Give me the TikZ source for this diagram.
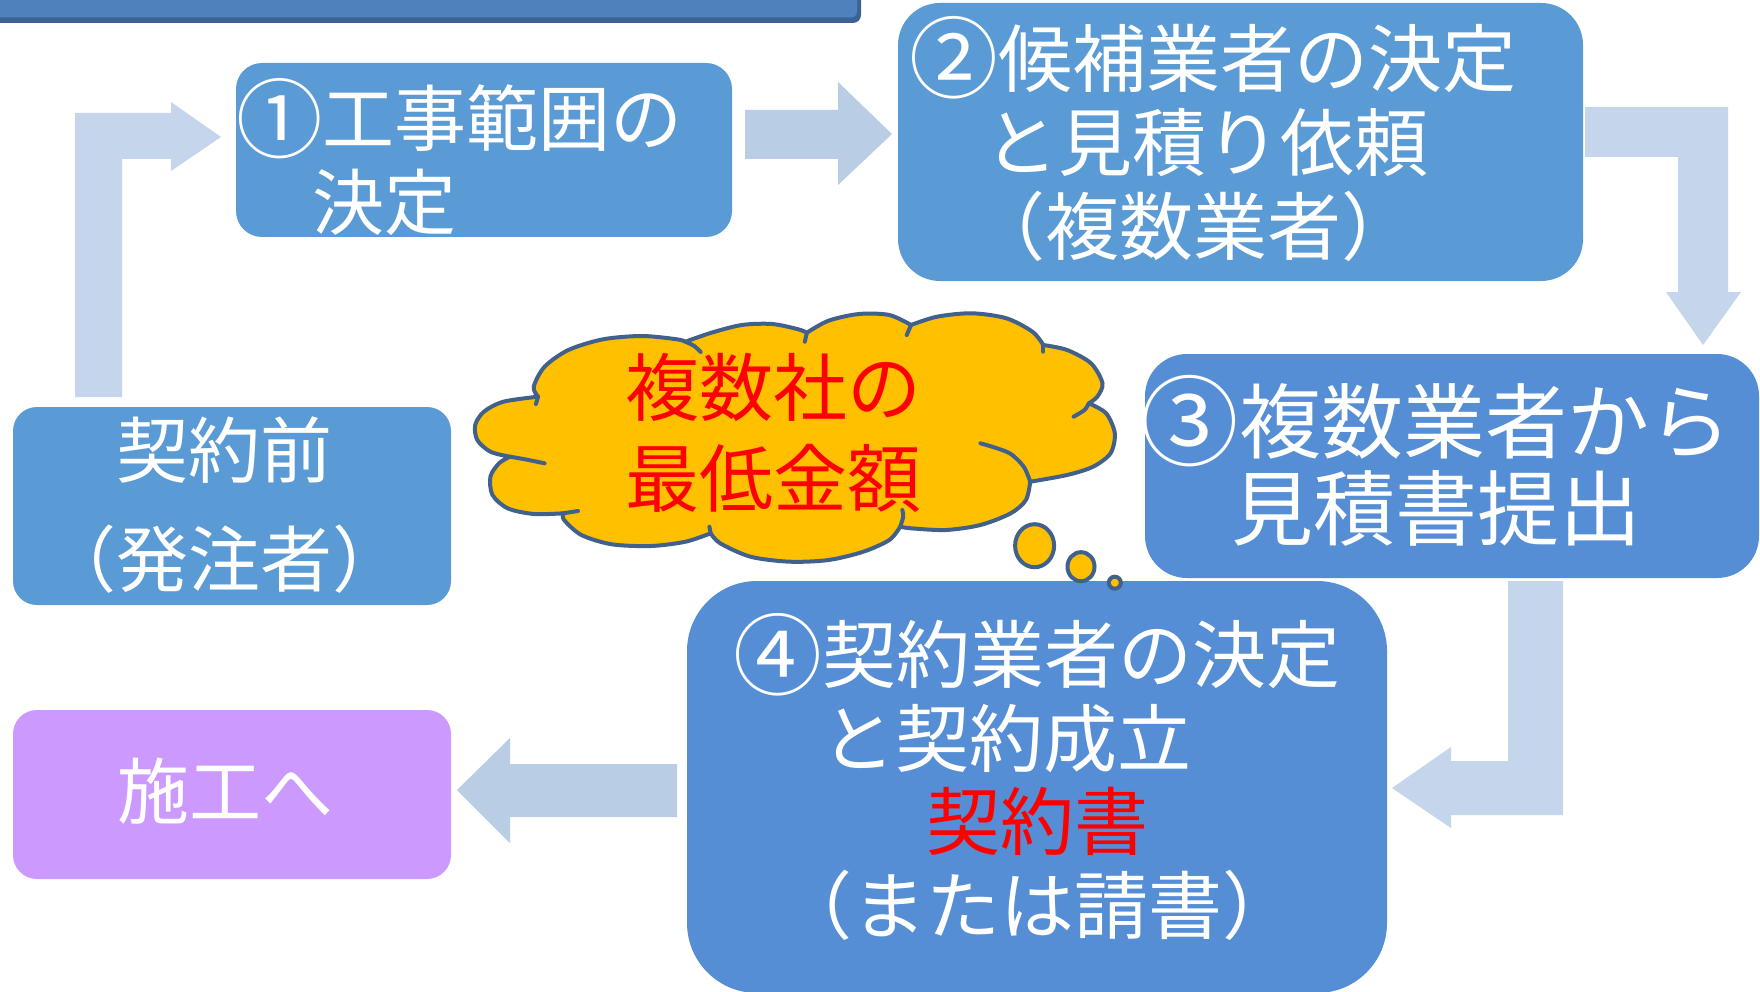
\documentclass[tikz,border=0pt]{standalone}
\usepackage{fontspec}
\usepackage{graphicx}
\newfontfamily\jp{Noto Sans CJK JP}
\newcommand\circnum[1]{\raisebox{-0.075em}{\scalebox{1.2}{#1}}}
\usetikzlibrary{shapes.geometric}
\definecolor{boxA}{HTML}{5B9BD5}
\definecolor{boxB}{HTML}{558ED5}
\definecolor{titlebar}{HTML}{4F81BD}
\definecolor{titleedge}{HTML}{3C6193}
\definecolor{arrowS}{HTML}{B9CDE5}
\definecolor{arrowL}{HTML}{C5D5EB}
\definecolor{lav}{HTML}{CC99FF}
\definecolor{cloudfill}{HTML}{FFC000}
\definecolor{cloudedge}{HTML}{41618C}
\definecolor{redtext}{HTML}{FF0000}
\begin{document}
\begin{tikzpicture}[x=1pt,y=-1pt,
  boxshape/.style={rectangle,inner sep=0pt,draw=none},
  txt/.style={inner sep=0pt,text=white,align=center},
  bubble/.style={ellipse,inner sep=0pt,fill=cloudfill,draw=cloudedge,line width=4pt},
  stub/.style={draw=cloudedge,line width=4pt,line cap=round},
]
\useasboundingbox (0,0) rectangle (1760,992);
\clip (0,0) rectangle (1760,992);
\fill[white] (0,0) rectangle (1760,992);

% title bar (text cut off above the picture)
\fill[titleedge,rounded corners=8pt] (-40,-40) rectangle (861,23);
\node[boxshape,fill=titlebar,rounded corners=6pt,minimum width=897pt,minimum height=57pt] (title) at (408.5,-11) {};

% arrows
\fill[arrowS] (745,110) -- (838,110) -- (838,82) -- (892,134) -- (838,185) -- (838,159) -- (745,159) -- cycle;
\fill[arrowL] (75,397) -- (75,113) -- (171,113) -- (171,102) -- (221,137) -- (171,171) -- (171,159) -- (122,159) -- (122,397) -- cycle;
\fill[arrowL] (1585,107) -- (1728,107) -- (1728,292) -- (1741,292) -- (1703,345) -- (1666,292) -- (1678,292) -- (1678,157) -- (1585,157) -- cycle;
\fill[arrowL] (1508,581) -- (1563,581) -- (1563,815) -- (1451,815) -- (1451,828) -- (1392,788) -- (1451,747) -- (1451,761) -- (1508,761) -- cycle;
\fill[arrowS] (677,764) -- (677,817) -- (510,817) -- (510,843) -- (457,790) -- (510,738) -- (510,764) -- cycle;

% boxes
\node[boxshape,fill=boxA,rounded corners=26pt,minimum width=496pt,minimum height=174pt] (b1) at (484,150) {};
\node[boxshape,fill=boxA,rounded corners=42pt,minimum width=685pt,minimum height=278pt] (b2) at (1240.5,142) {};
\node[boxshape,fill=boxB,rounded corners=42pt,minimum width=614pt,minimum height=224pt] (b3) at (1452,466) {};
\node[boxshape,fill=boxB,rounded corners=70pt,minimum width=700pt,minimum height=412pt] (b4) at (1037,787) {};
\node[boxshape,fill=boxA,rounded corners=24pt,minimum width=438pt,minimum height=198pt] (pre) at (232,506) {};
\node[boxshape,fill=lav,rounded corners=24pt,minimum width=438pt,minimum height=169pt] (go) at (232,794.5) {};

% box texts
\node[txt,align=left,anchor=west,font=\jp\fontsize{72pt}{84pt}\selectfont] (t1) at (236,157) {\circnum{①}工事範囲の\\\hspace*{76pt}決定};
\node[txt,font=\jp\fontsize{74pt}{84pt}\selectfont] (t2) at (1213,139) {\circnum{②}候補業者の決定\\と見積り依頼\hspace*{14pt}\null\\（複数業者）\hspace*{40pt}};
\node[txt,font=\jp\fontsize{82pt}{87pt}\selectfont] (t3) at (1436,461) {\circnum{③}複数業者から\\見積書提出};
\node[txt,font=\jp\fontsize{74pt}{83.5pt}\selectfont] (t4) at (1037,777) {\circnum{④}契約業者の決定\\と契約成立\hspace*{62pt}\null\\\textcolor{redtext}{契約書}\\（または請書）};
\node[txt,font=\jp\fontsize{72pt}{109pt}\selectfont] (tpre) at (224,505) {契約前\\（発注者）};
\node[txt,font=\jp\fontsize{72pt}{84pt}\selectfont] (tgo) at (225,791) {施工へ};

% cloud
\path[fill=cloudfill,draw=cloudedge,line width=4pt,line join=round]
  plot[smooth] coordinates {(538.1,396.7) (533.7,386.7) (544.6,366.7) (568.4,350) (603.1,339.3) (642.1,336) (676.8,339.3) (685.5,341.7)}
  -- plot[smooth] coordinates {(685.5,341.7) (711.5,332.7) (741.9,325) (772.2,324) (798.2,329.3) (806.9,332.7)}
  -- plot[smooth] coordinates {(806.9,332.7) (828.6,320.7) (859,314) (889.3,315) (911,325)}
  -- plot[smooth] coordinates {(911,325) (937,316.7) (971.7,313.3) (1006.4,318.3) (1032.4,331.7) (1043.3,345)}
  -- plot[smooth] coordinates {(1043.3,345) (1067.1,350) (1091,363.3) (1102.5,383.3) (1097.3,396.7) (1088.8,403.3)}
  -- plot[smooth] coordinates {(1088.8,403.3) (1106.1,413.3) (1114.8,433.3) (1110.5,453.3) (1093.1,466.7) (1067.1,475) (1030.2,481.7)}
  -- plot[smooth] coordinates {(1030.2,481.7) (1025.9,500) (1010.7,513.3) (980.4,525) (945.7,530) (911,528.3) (900.2,526.7)}
  -- plot[smooth] coordinates {(900.2,526.7) (889.3,540) (863.3,551.7) (828.6,560) (789.6,561.7) (750.5,556.7) (720.2,543.3) (710.7,533.3)}
  -- plot[smooth] coordinates {(710.7,533.3) (685.5,541.7) (650.8,546) (611.8,544.3) (581.4,535) (564.1,520) (563.2,513.3)}
  -- plot[smooth] coordinates {(563.2,513.3) (533.7,514) (507.7,508.3) (492.5,495) (490.4,476.7) (499,463.3) (509.9,456.7)}
  -- plot[smooth] coordinates {(509.9,456.7) (490.4,451.7) (477.3,440) (475.2,425) (483.9,411.7) (503.4,401.7) (538.1,396.7)}
  -- cycle;
\draw[stub] plot[smooth] coordinates {(538.1,396.7) (535.9,404)};
\draw[stub] plot[smooth] coordinates {(685.5,341.7) (694.2,346) (700.7,352)};
\draw[stub] plot[smooth] coordinates {(806.9,332.7) (804.8,341.7)};
\draw[stub] plot[smooth] coordinates {(911,325) (906.7,335)};
\draw[stub] plot[smooth] coordinates {(1043.3,345) (1043.3,351.7)};
\draw[stub] plot[smooth] coordinates {(1088.8,403.3) (1084.5,410) (1073.6,416.7)};
\draw[stub] plot[smooth] coordinates {(980.4,443.3) (1008.6,452.7) (1023.7,466.7) (1030.2,481.7)};
\draw[stub] plot[smooth] coordinates {(900.2,526.7) (903.2,516.7) (902.3,510)};
\draw[stub] plot[smooth] coordinates {(710.7,533.3) (709.4,526.7)};
\draw[stub] plot[smooth] coordinates {(563.2,513.3) (578,511)};
\draw[stub] plot[smooth] coordinates {(509.9,456.7) (525,459.3) (544.6,463.3)};
\node[txt,text=redtext,font=\jp\fontsize{74pt}{91pt}\selectfont] (tc) at (773,433) {複数社の\\最低金額};

% thought bubbles
\node[bubble,minimum width=39pt,minimum height=43pt] (c1) at (1034.6,545.7) {};
\node[bubble,minimum width=27pt,minimum height=29pt] (c2) at (1081,566.7) {};
\node[bubble,minimum width=12pt,minimum height=12pt] (c3) at (1114.8,582.7) {};
\end{tikzpicture}
\end{document}
